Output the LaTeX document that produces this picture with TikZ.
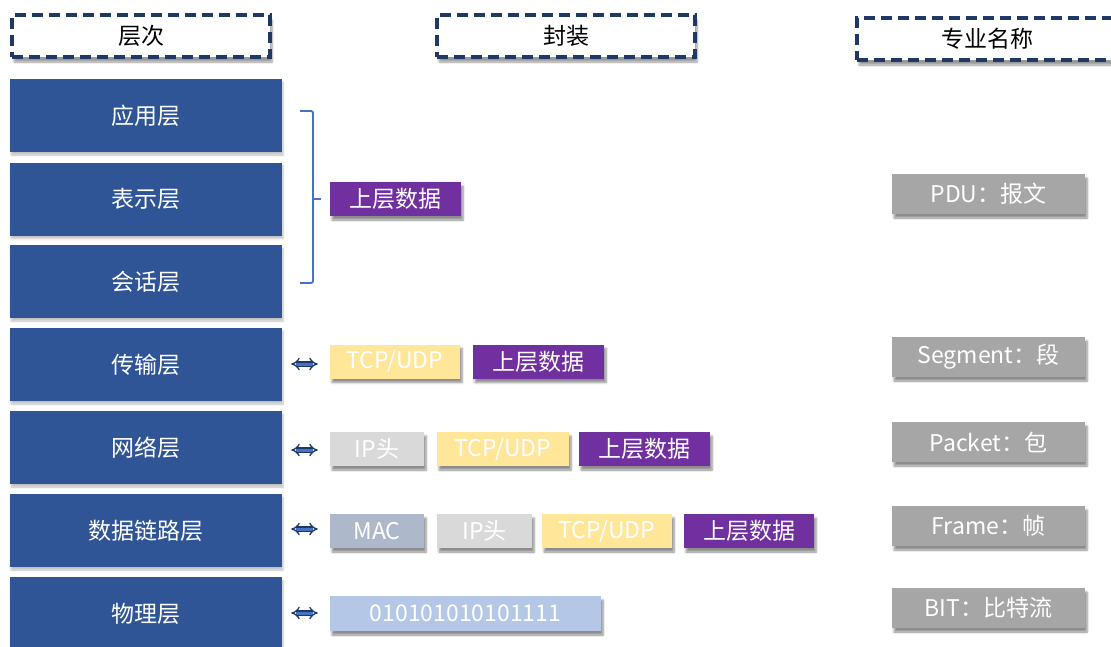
\documentclass[tikz,border=0pt]{standalone}
\usepackage{fontspec}
\setmainfont{Noto Sans CJK SC}
\usetikzlibrary{arrows.meta,shadows.blur}
\definecolor{layerblue}{HTML}{2F5597}
\definecolor{dashblue}{HTML}{203864}
\definecolor{brk}{HTML}{4472C4}
\definecolor{pdata}{HTML}{7030A0}
\definecolor{ptcp}{HTML}{FFE699}
\definecolor{pip}{HTML}{D9D9D9}
\definecolor{pmac}{HTML}{ADB9CA}
\definecolor{pbit}{HTML}{B4C7E7}
\definecolor{pname}{HTML}{A6A6A6}
\definecolor{arrfill}{HTML}{4472C4}
\definecolor{arrline}{HTML}{1F3864}
\tikzset{
  x=1pt, y=-1pt,
  txt/.style={font=\fontsize{23}{26}\selectfont},
  layerbox/.style={txt, fill=layerblue, text=white, minimum width=272pt, minimum height=73pt, inner sep=0pt,
     blur shadow={shadow xshift=1pt, shadow yshift=-3pt, shadow blur steps=5, shadow opacity=25}},
  headbox/.style={txt, draw=dashblue, line width=3.2pt, dash pattern=on 11pt off 6pt, fill=white, text=black,
     minimum width=258pt, minimum height=42pt, inner sep=0pt,
     blur shadow={shadow xshift=2pt, shadow yshift=-5pt, shadow blur steps=6, shadow opacity=40}},
  pkt/.style={txt, text=white, minimum height=34pt, inner sep=0pt,
     blur shadow={shadow xshift=2pt, shadow yshift=-4pt, shadow blur steps=6, shadow opacity=45}},
  pdatabox/.style={pkt, fill=pdata, minimum width=131pt},
  ptcpbox/.style={pkt, fill=ptcp, minimum width=130pt},
  pipbox/.style={pkt, fill=pip, minimum width=95pt},
  pmacbox/.style={pkt, fill=pmac, minimum width=94pt},
  pbitbox/.style={pkt, fill=pbit, minimum width=271pt, minimum height=35pt},
  namebox/.style={txt, fill=pname, text=white, minimum width=193pt, minimum height=40pt, inner sep=0pt,
     blur shadow={shadow xshift=2pt, shadow yshift=-4pt, shadow blur steps=6, shadow opacity=45}},
  dblarrow/.style={draw=arrline, double=arrfill, line width=1.3pt, double distance=3pt,
     {Implies[length=7pt, width=10pt]}-{Implies[length=7pt, width=10pt]}},
}
\begin{document}
\begin{tikzpicture}
\useasboundingbox (0,0) rectangle (1111,646);
% headers
\node[headbox] (h1) at (141,36) {层次};
\node[headbox] (h2) at (566,36) {封装};
\node[headbox, minimum width=260pt] (h3) at (987,39) {专业名称};
% layers
\node[layerbox] (app) at (146,115.5) {应用层};
\node[layerbox] (pre) at (146,199) {表示层};
\node[layerbox] (ses) at (146,281.5) {会话层};
\node[layerbox] (tra) at (146,364.5) {传输层};
\node[layerbox] (net) at (146,447.5) {网络层};
\node[layerbox] (dl) at (146,530.5) {数据链路层};
\node[layerbox] (phy) at (146,613.5) {物理层};
% upper layers data
\node[pdatabox] (d1) at (395.5,199) {上层数据};
\coordinate (bt) at (300,111);
\coordinate (bb) at (300,283);
\draw[brk, line width=1.8pt, rounded corners=2pt] (bt) -- ++(13,0) -- ([xshift=13pt]bb) -- (bb);
\draw[brk, line width=1.8pt] ([xshift=13pt]bt |- d1.west) -- ++(8,0);
% transport
\node[ptcpbox] (t2) at (395,361.5) {TCP/UDP};
\node[pdatabox] (t3) at (538.5,361.5) {上层数据};
% network
\node[pipbox, minimum width=94pt] (n1) at (377,449) {IP头};
\node[ptcpbox, minimum width=132pt] (n2) at (503,449) {TCP/UDP};
\node[pdatabox] (n3) at (644.5,449) {上层数据};
% data link
\node[pmacbox] (l1) at (377,531) {MAC};
\node[pipbox] (l2) at (484.5,531) {IP头};
\node[ptcpbox] (l3) at (607,531) {TCP/UDP};
\node[pdatabox, minimum width=130pt] (l4) at (749,531) {上层数据};
% physical
\node[pbitbox] (b1) at (465.5,613.5) {010101010101111};
% arrows
\draw[dblarrow] ([xshift=9pt]tra.east |- 0,364) -- ([xshift=-12pt]t2.west |- 0,364);
\draw[dblarrow] ([xshift=9pt]net.east |- 0,450) -- ([xshift=-12pt]n1.west |- 0,450);
\draw[dblarrow] ([xshift=9pt]dl.east |- 0,529) -- ([xshift=-12pt]l1.west |- 0,529);
\draw[dblarrow] ([xshift=9pt]phy.east |- 0,613) -- ([xshift=-12pt]b1.west |- 0,613);
% names
\node[namebox] (r1) at (988.5,194) {PDU：报文};
\node[namebox] (r2) at (988.5,357) {Segment：段};
\node[namebox] (r3) at (988.5,442) {Packet：包};
\node[namebox] (r4) at (988.5,526) {Frame：帧};
\node[namebox] (r5) at (988.5,608) {BIT：比特流};
\end{tikzpicture}
\end{document}
